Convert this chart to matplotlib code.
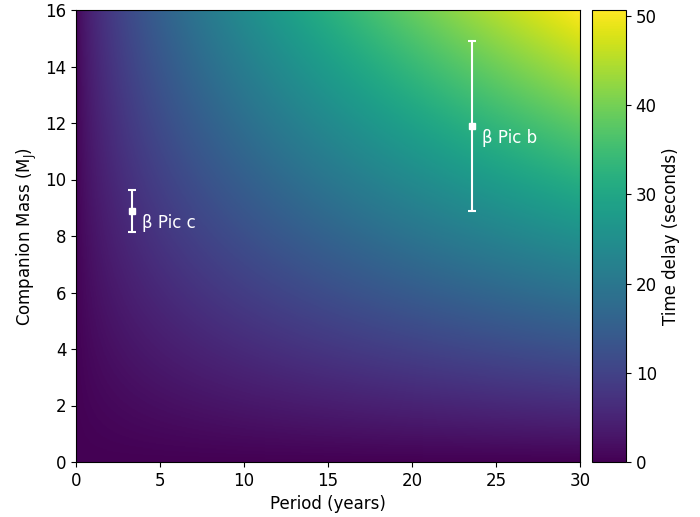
import matplotlib
matplotlib.use('Agg')
import matplotlib.pyplot as plt
import numpy as np

plt.rcParams['font.size'] = 12

# grid axes
period_range = [0, 30]      # years
mass_range = [0, 16]        # Jupiter masses
M_star = 1.75               # beta Pic mass (solar masses)
MJ_to_Msun = 9.546e-4
AU_light_s = 499.005

# planets: name, period, mass, mass error
names = ['β Pic c', 'β Pic b']
periods = [3.35, 23.6]
masses = [8.89, 11.9]
mass_err = [0.75, 3.0]

P = np.linspace(period_range[0], period_range[1], 600)
M = np.linspace(mass_range[0], mass_range[1], 400)
PP, MM = np.meshgrid(P, M)
a = (M_star * PP**2) ** (1. / 3.)
delay = a * MM * MJ_to_Msun / M_star * AU_light_s

W, H = 700., 517.
fig = plt.figure(figsize=(7, 5.17), dpi=100)
ax = fig.add_axes([76 / W, 1 - 462 / H, (580 - 76) / W, (462 - 10) / H])
cax = fig.add_axes([592 / W, 1 - 462 / H, (626 - 592) / W, (462 - 10) / H])

im = ax.imshow(delay, origin='lower', aspect='auto', cmap='viridis',
               extent=[period_range[0], period_range[1], mass_range[0], mass_range[1]])
cb = fig.colorbar(im, cax=cax)
cb.set_label('Time delay (seconds)')

ax.errorbar(periods, masses, yerr=mass_err, fmt='s', color='white',
            ms=4, capsize=3, elinewidth=1.5, capthick=1.5)
for n, p, m in zip(names, periods, masses):
    ax.text(p + 0.55, m - 0.42, n, color='white', fontsize=12, va='center')

ax.set_xlabel('Period (years)')
ax.set_ylabel('Companion Mass (M$_{\\rm J}$)')
plt.savefig('out.png')
